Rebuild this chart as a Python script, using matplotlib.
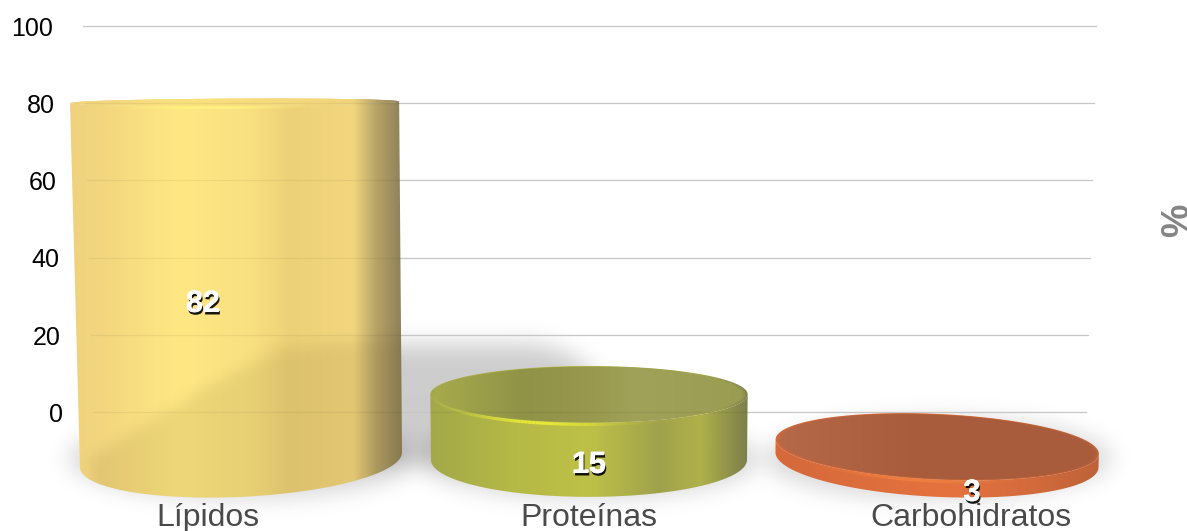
#!/usr/bin/env python3
import numpy as np
import matplotlib
matplotlib.use("Agg")
import matplotlib.pyplot as plt
import matplotlib.patheffects as pe
from matplotlib.collections import LineCollection
from matplotlib.colors import LinearSegmentedColormap
from matplotlib.patches import Polygon

plt.rcParams['font.family'] = ['Liberation Sans', 'DejaVu Sans']

# Data
categories = ["Lípidos", "Proteínas", "Carbohidratos"]
values = [82, 15, 3]
y_ticks = [100, 80, 60, 40, 20, 0]

# Colours along each cylinder, left to right
side_colors = [
    [(0, "#F0D27E"), (.1, "#F3D67E"), (.33, "#FFE884"), (.55, "#F8DF80"), (.66, "#EDD178"),
     (.85, "#F3D67E"), (.92, "#B5A367"), (1, "#8C7E58")],
    [(0, "#A3A84A"), (.25, "#B4B846"), (.5, "#BEC147"), (.72, "#A0A24C"), (.85, "#B0B14A"), (1, "#7B7E4A")],
    [(0, "#D5693A"), (.55, "#E5733F"), (.8, "#D26A3B"), (1, "#BD6238")],
]
cap_colors = [
    [(0, "#EFD27C"), (.33, "#FBE27F"), (.85, "#F0D47C"), (.92, "#B5A367"), (1, "#8C7E58")],
    [(0, "#A8AC4C"), (.3, "#8F9247"), (.5, "#98994E"), (.65, "#A0A25A"), (1, "#9A9C52")],
    [(0, "#B5694A"), (.4, "#AA5D3C"), (1, "#A95C3B")],
]
highlight_colors = ["#FFF27E", "#EDEE32", "#F08040"]
highlight_peak = [0.42, 0.33, 0.42]

# Picture geometry, in pixels
W, H = 1187, 531
PX_X, PX_Y = 349, 3.86          # pixels per category / per value unit
X0, Y0 = 240, 412               # pixel of category 0 / value 0
BASE_VALUE = -12.4              # the floor the cylinders stand on
HEIGHT_GAIN = 1.13
HORIZON = 60
half_widths = [161, 158, 161.5]
label_x_px = [203, 589, 972]
label_y_px = [304, 465, 493]
shade_edge_x = [95, 200, 283, 400, 420]
shade_edge_y = [455, 390, 347, 337, 337]

fig = plt.figure(figsize=(W / 100, H / 100), dpi=100)
ax = fig.add_axes([0, 0, 1, 1])
xlim = (-X0 / PX_X, (W - X0) / PX_X)
ylim = ((Y0 - H) / PX_Y, Y0 / PX_Y)
ax.set_xlim(xlim)
ax.set_ylim(ylim)
ax.axis('off')


def xd(px):
    return (np.asarray(px) - X0) / PX_X


def yd(py):
    return (Y0 - np.asarray(py)) / PX_Y


def ypx(v):
    return Y0 - v * PX_Y


def ellipse(cx, cy, hw, t, flat=0.0925):
    hh = (cy - HORIZON) * flat
    slope = (cx - 590) * (cy - HORIZON) * 3.3e-7
    return cx + hw * np.cos(t), cy + hh * np.sin(t) + slope * hw * np.cos(t)


def blur(a, sigma):
    fy = np.fft.fftfreq(a.shape[0])[:, None]
    fx = np.fft.fftfreq(a.shape[1])[None, :]
    g = np.exp(-2 * (np.pi * sigma) ** 2 * (fx ** 2 + fy ** 2))
    return np.real(np.fft.ifft2(np.fft.fft2(a) * g))


def gradient_fill(xs, ys, stops, zorder, left, right, alpha=1.0):
    patch = Polygon(np.column_stack([xd(xs), yd(ys)]), closed=True, fc='none', ec='none', zorder=zorder)
    ax.add_patch(patch)
    cmap = LinearSegmentedColormap.from_list("g", stops)
    im = ax.imshow(np.linspace(0, 1, 256)[None, :], cmap=cmap, aspect='auto', zorder=zorder, alpha=alpha,
                   extent=(xd(left), xd(right), ylim[0], ylim[1]), interpolation='bilinear')
    im.set_clip_path(patch)


# Soft shadows on the wall and the floor
yy, xx = np.mgrid[0:H, 0:W]
base_py = ypx(BASE_VALUE)
wall_right = 520 + 85 * np.sqrt(np.clip(1 - ((405 - yy) / 62.0).clip(0, None) ** 2, 0, 1))
wall = ((xx > 300) & (xx < wall_right) & (yy > 343) & (yy < 462)).astype(float)
wall = blur(wall, 12) * 0.2
floor = np.zeros((H, W))
for i in range(len(values)):
    cx = X0 + i * PX_X
    hh = (base_py - HORIZON) * 0.0925
    floor += (((xx - cx) / (half_widths[i] + 12)) ** 2 + ((yy - base_py + 2) / (hh + 4)) ** 2 < 1) * 0.15
floor = blur(floor, 11)
rgba = np.zeros((H, W, 4))
rgba[..., 3] = np.clip(wall + floor, 0, 1)
ax.imshow(rgba, extent=(xlim[0], xlim[1], ylim[0], ylim[1]), aspect='auto', zorder=1)

# Gridlines and value axis, leaning with the perspective
for v in y_ticks:
    left, right = 93 - 0.1 * v, 1086 + 0.1 * v
    ax.plot(xd([left, right]), [v, v], color="#D2D2D2", lw=0.9, zorder=2)
    ax.plot(xd([left, right]), [v, v], color="black", alpha=0.05, lw=0.9, zorder=8)
    ax.text(xd(63 - 0.1 * v), v - 0.75, str(v), ha='right', va='center', fontsize=18, color="black", zorder=9)

# Cylinders
t_front = np.linspace(np.pi, 0, 90)
t_full = np.linspace(0, 2 * np.pi, 180)
for i, (name, val) in enumerate(zip(categories, values)):
    base_cx = X0 + i * PX_X + (1 - i) * 1
    top_py = ypx(BASE_VALUE + val * HEIGHT_GAIN)
    rise = base_py - top_py
    top_cx = base_cx + (i - 1) * rise * 0.018
    top_hw = half_widths[i] + rise * 0.01
    bx, by = ellipse(base_cx, base_py, half_widths[i], t_front)
    tx, ty = ellipse(top_cx, top_py, top_hw, t_front, flat=0.085)
    left, right = min(bx.min(), tx.min()) - 1, max(bx.max(), tx.max()) + 1
    gradient_fill(np.r_[tx, bx[::-1]], np.r_[ty, by[::-1]], side_colors[i], 3, left, right)
    # opaque disc first, then the cap fades in over a few rings so its edge looks bevelled
    cx_, cy_ = ellipse(top_cx, top_py, top_hw, t_full, flat=0.085)
    gradient_fill(cx_, cy_, side_colors[i], 3.5, left, right)
    for scale, a, z in [(0.99, 0.45, 4.0), (0.98, 0.6, 4.1), (0.965, 1.0, 4.2)]:
        cx_, cy_ = ellipse(top_cx, top_py, top_hw * scale, t_full, flat=0.085 * scale)
        gradient_fill(cx_, cy_, cap_colors[i], z, left, right, alpha=a)

    # bright rim along the front of the cap
    hx, hy = ellipse(top_cx, top_py + 1.5, top_hw * 0.97, np.linspace(np.pi, 0, 120), flat=0.085)
    pts = np.column_stack([xd(hx), yd(hy)])
    segs = np.stack([pts[:-1], pts[1:]], axis=1)
    u = (hx[:-1] - left) / (right - left)
    rim = np.tile(matplotlib.colors.to_rgba(highlight_colors[i]), (len(segs), 1))
    rim[:, 3] = np.exp(-((u - highlight_peak[i]) / 0.2) ** 2) * 0.9
    ax.add_collection(LineCollection(segs, colors=rim, linewidths=2.2, zorder=5))

# Shadow falling across the lower part of the first cylinder
first = 0
bx, by = ellipse(X0 + 1, base_py, half_widths[first], t_front)
top_py = ypx(BASE_VALUE + values[first] * HEIGHT_GAIN)
tx, ty = ellipse(X0 + 1 - 6.5, top_py, half_widths[first] + 3.5, t_front, flat=0.085)
body = Polygon(np.column_stack([xd(np.r_[tx, bx[::-1]]), yd(np.r_[ty, by[::-1]])]), fc='none', ec='none', zorder=6)
ax.add_patch(body)
edge = np.interp(xx, shade_edge_x, shade_edge_y)
shade = np.clip((yy - edge) / 14 + 0.5, 0, 1)
shade[xx < 90] = 0
shade = blur(shade, 6) * 0.09
sh = np.zeros((H, W, 4))
sh[..., 0:3] = (0.25, 0.18, 0.0)
sh[..., 3] = np.clip(shade, 0, 1)
im = ax.imshow(sh, extent=(xlim[0], xlim[1], ylim[0], ylim[1]), aspect='auto', zorder=6)
im.set_clip_path(body)

# Value labels
shadow = [pe.withStroke(linewidth=0.6, foreground="white"),
          pe.withSimplePatchShadow(offset=(0.8, -1.8), shadow_rgbFace="black", alpha=0.9), pe.Normal()]
for i, val in enumerate(values):
    ax.text(xd(label_x_px[i]), yd(label_y_px[i]), str(val), ha='center', va='center', fontsize=22,
            fontweight='bold', color="white", zorder=11, path_effects=shadow)

# Category labels
for i, name in enumerate(categories):
    ax.text(i + (i - 1) * 0.093, yd(518), name, ha='center', va='center', fontsize=23, color="#4A4A4A", zorder=10)

ax.text(xd(1178), yd(220), "%", rotation=90, ha='center', va='center', fontsize=27, fontweight='bold', color="#858585")

ax.set_xlim(xlim)
ax.set_ylim(ylim)
fig.savefig("out.png", dpi=100)
